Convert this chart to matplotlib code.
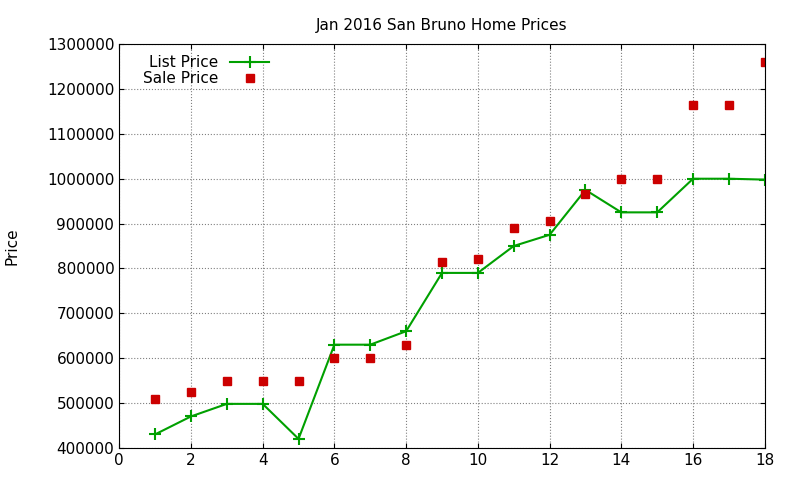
import matplotlib
matplotlib.use("Agg")
import matplotlib.pyplot as plt

x = list(range(1, 19))
list_price = [430000, 470000, 498000, 498000, 420000, 630000, 630000, 660000, 790000,
              790000, 850000, 875000, 975000, 925000, 925000, 1000000, 1000000, 998000]
sale_price = [510000, 525000, 550000, 550000, 550000, 600000, 600000, 630000, 815000,
              820000, 890000, 905000, 965000, 1000000, 1000000, 1165000, 1165000, 1260000]

fig = plt.figure(figsize=(8, 4.8), dpi=100)
ax = fig.add_axes([0.149, 0.067, 0.807, 0.841])
ax.plot(x, list_price, color="#00a000", marker="+", markersize=8, mew=1.5, lw=1.5, label="List Price")
ax.plot(x, sale_price, color="#cc0000", marker="s", markersize=6, ls="none", label="Sale Price")
ax.set_xlim(0, 18)
ax.set_ylim(400000, 1300000)
ax.set_xticks(range(0, 19, 2))
ax.set_yticks(range(400000, 1300001, 100000))
ax.ticklabel_format(style="plain", axis="y")
ax.grid(True, color="gray", ls=":", lw=0.8)
ax.tick_params(direction="in", labelsize=11, top=True, right=True)
ax.set_ylabel("Price", fontsize=11, labelpad=20)
ax.set_title("Jan 2016 San Bruno Home Prices", fontsize=11, pad=10)
ax.legend(loc="upper left", frameon=False, markerfirst=False, fontsize=11,
          bbox_to_anchor=(0.02, 1.0), handlelength=2.5, borderpad=0.2, labelspacing=0.1)
fig.savefig("out.png")
